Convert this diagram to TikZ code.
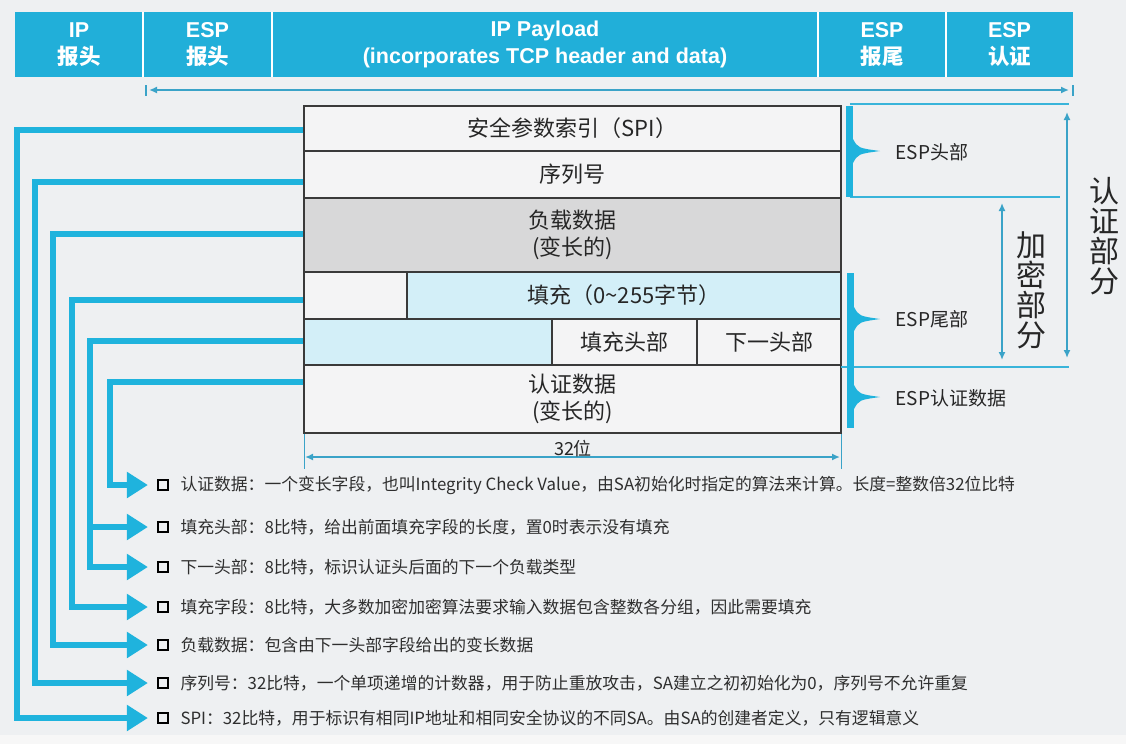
\documentclass[tikz,border=0pt]{standalone}
\usepackage{fontspec}
\setmainfont{Noto Sans CJK SC}
\newfontfamily\latinb{Liberation Sans}
\usetikzlibrary{arrows.meta}
\definecolor{bg}{HTML}{EEF0F2}
\definecolor{hdr}{HTML}{21AFD9}
\definecolor{cyn}{HTML}{1FB3DD}
\definecolor{thinc}{HTML}{39B4DA}
\definecolor{arrc}{HTML}{3AA3C8}
\definecolor{cellw}{HTML}{F4F4F5}
\definecolor{cellg}{HTML}{D8D8D9}
\definecolor{cellc}{HTML}{D3EFF8}
\definecolor{edgec}{HTML}{3A3A3A}
\begin{document}
\begin{tikzpicture}[x=1pt,y=-1pt,
  cell/.style={draw=edgec,line width=1.4pt,inner sep=0pt,align=center,
    font=\fontsize{22}{27}\selectfont,text=black!85},
  hd/.style={text=white,align=center,font=\fontsize{21.5}{27}\selectfont\bfseries},
  conn/.style={draw=cyn,line width=6pt},
  tipb/.style={-{Triangle[length=21pt,width=25pt]}},
  sq/.style={draw=black,line width=2.2pt,minimum size=10pt,inner sep=0pt},
  desc/.style={anchor=west,font=\fontsize{16.8}{16.8}\selectfont,text=black!82},
  rlab/.style={anchor=west,font=\fontsize{19}{19}\selectfont,text=black!85},
  vlab/.style={align=center,font=\fontsize{30}{30}\selectfont,text=black!85},
  thinl/.style={draw=thinc,line width=1.6pt},
  darr/.style={draw=arrc,line width=1.6pt,{Latex[length=8pt,width=7pt]}-{Latex[length=8pt,width=7pt]}},
  brk/.style={fill=cyn}
]
\useasboundingbox (0,0) rectangle (1126,744);
\fill[bg] (0,0) rectangle (1126,735);
\fill[black!3] (0,735) rectangle (1126,744);

% header bar
\fill[hdr] (15,12) rectangle (1073,77);
\foreach \xx in {143,272,818,946} \draw[white,line width=1.5pt] (\xx,12) -- (\xx,77);
\node[hd] (hip) at (79,44.5) {{\latinb IP}\\报头};
\node[hd] (hesp) at (207.5,44.5) {{\latinb ESP}\\报头};
\node[hd] (hpay) at (545,44.5) {\latinb IP Payload\\\latinb (incorporates TCP header and data)};
\node[hd] (htr) at (882,44.5) {{\latinb ESP}\\报尾};
\node[hd] (hau) at (1009.5,44.5) {{\latinb ESP}\\认证};

% top span arrow
\coordinate (ta) at (146,90);
\coordinate (tb) at (1073,90);
\draw[darr] ([xshift=3pt]ta) -- ([xshift=-4pt]tb);
\draw[arrc,line width=1.3pt] (146,85) -- (146,96);
\draw[arrc,line width=1.3pt] (1073,85) -- (1073,96);

% ESP packet cells
\node[cell,fill=cellw,minimum width=537pt,minimum height=45pt] (spi) at (572.5,128.5) {安全参数索引（SPI）};
\node[cell,fill=cellw,minimum width=537pt,minimum height=47pt] (seq) at (572.5,174.5) {序列号};
\node[cell,fill=cellg,minimum width=537pt,minimum height=74pt] (pay) at (572.5,235) {负载数据\\(变长的)};
\node[cell,fill=cellw,minimum width=103pt,minimum height=47pt] (padl) at (355.5,295.5) {};
\node[cell,fill=cellc,minimum width=434pt,minimum height=47pt] (pad) at (624,295.5) {填充（0\textasciitilde255字节）};
\node[cell,fill=cellc,minimum width=248pt,minimum height=46pt] (padc) at (428,342) {};
\node[cell,fill=cellw,minimum width=145pt,minimum height=46pt] (plen) at (624.5,342) {填充头部};
\node[cell,fill=cellw,minimum width=144pt,minimum height=46pt] (nxt) at (769,342) {下一头部};
\node[cell,fill=cellw,minimum width=537pt,minimum height=68pt] (auth) at (572.5,399) {认证数据\\(变长的)};

% 32 bit width
\draw[arrc,line width=1pt] (304,434) -- (304,469);
\draw[arrc,line width=1pt] (841,434) -- (841,469);
\draw[darr] (305,457) -- (840,457);
\node[font=\fontsize{18}{18}\selectfont,text=black!85] (w32) at (573,449) {32位};

% right brackets
\draw[thinl] (850,104) -- (1069,104);
\draw[thinl] (850,197) -- (1060,197);
\draw[thinl] (841,367) -- (1069,367);
\fill[brk] (846,106) rectangle (853,197);
\fill[brk] (847,273) rectangle (854,428);
\foreach \yy/\xb in {151/853,319/854,397/854}{
  \fill[brk] (\xb,\yy-12) .. controls (\xb+5,\yy-3) .. (880,\yy) .. controls (\xb+5,\yy+3) .. (\xb,\yy+12) -- cycle;
}
\node[rlab] (lhead) at (892,152) {ESP头部};
\node[rlab] (ltrail) at (892,319) {ESP尾部};
\node[rlab] (lauth) at (892,398) {ESP认证数据};

\draw[darr] (1002,203) -- (1002,360);
\draw[darr] (1067,112) -- (1067,358);
\node[vlab] (enc) at (1031,290) {加\\密\\部\\分};
\node[vlab] (aut) at (1104,236) {认\\证\\部\\分};

% bullet list
\node[sq] (b1) at (163,485) {};
\node[sq] (b2) at (163,527) {};
\node[sq] (b3) at (163,567) {};
\node[sq] (b4) at (163,607) {};
\node[sq] (b5) at (163,645) {};
\node[sq] (b6) at (163,683) {};
\node[sq] (b7) at (163,718) {};
\node[desc] (d1) at (177,485) {认证数据：一个变长字段，也叫Integrity Check Value，由SA初始化时指定的算法来计算。长度=整数倍32位比特};
\node[desc] (d2) at (177,527) {填充头部：8比特，给出前面填充字段的长度，置0时表示没有填充};
\node[desc] (d3) at (177,567) {下一头部：8比特，标识认证头后面的下一个负载类型};
\node[desc] (d4) at (177,607) {填充字段：8比特，大多数加密加密算法要求输入数据包含整数各分组，因此需要填充};
\node[desc] (d5) at (177,645) {负载数据：包含由下一头部字段给出的变长数据};
\node[desc] (d6) at (177,683) {序列号：32比特，一个单项递增的计数器，用于防止重放攻击，SA建立之初初始化为0，序列号不允许重复};
\node[desc] (d7) at (177,718) {SPI：32比特，用于标识有相同IP地址和相同安全协议的不同SA。由SA的创建者定义，只有逻辑意义};

% connectors
\draw[conn,tipb] ([yshift=-1.5pt]spi.west) -| (17,718) -- ([xshift=-9pt]b7.west);
\draw[conn,tipb] ([yshift=-7.5pt]seq.west) -| (35,683) -- ([xshift=-9pt]b6.west);
\draw[conn,tipb] ([yshift=1pt]pay.west) -| (53,645) -- ([xshift=-9pt]b5.west);
\draw[conn,tipb] ([yshift=-4.5pt]padl.west) -| (72,607) -- ([xshift=-9pt]b4.west);
\draw[conn,tipb] ([yshift=1pt]padc.west) -| (90,567) -- ([xshift=-9pt]b3.west);
\draw[conn,tipb] (88,527) -- ([xshift=-9pt]b2.west);
\draw[conn,tipb] ([yshift=17pt]auth.west) -| (110,485) -- ([xshift=-9pt]b1.west);
\end{tikzpicture}
\end{document}
